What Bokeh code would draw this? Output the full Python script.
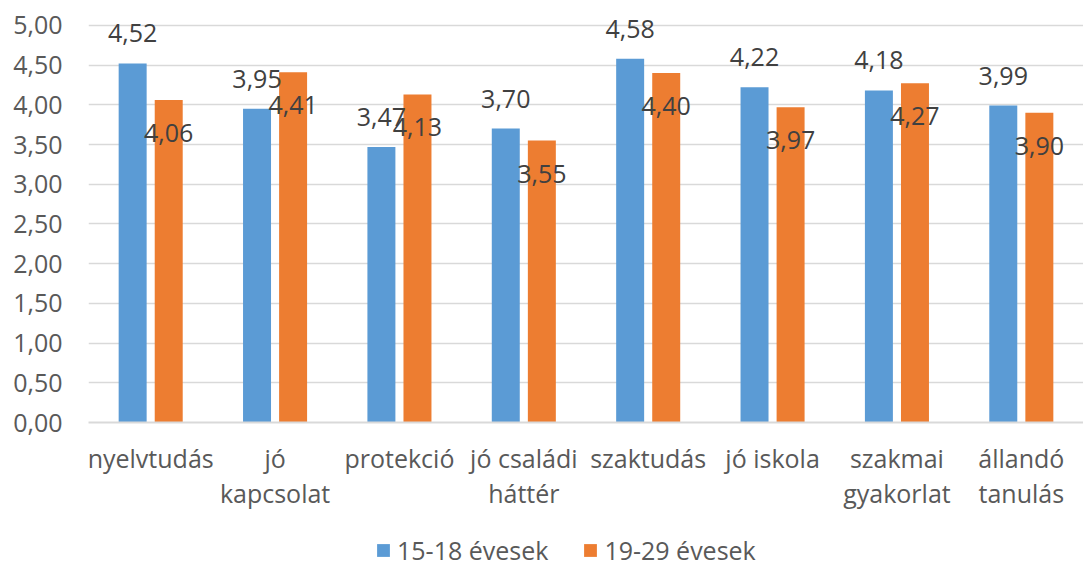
from bokeh.plotting import figure
from bokeh.layouts import column
from bokeh.models import ColumnDataSource, FixedTicker, Legend, LegendItem, Range1d
from bokeh.core.properties import value
from bokeh.transform import dodge
from bokeh.embed import file_html
from bokeh.resources import INLINE

categories = ["nyelvtudás", "jó\nkapcsolat", "protekció", "jó családi\nháttér",
              "szaktudás", "jó iskola", "szakmai\ngyakorlat", "állandó\ntanulás"]
series_names = ["15-18 évesek", "19-29 évesek"]
young = [4.52, 3.95, 3.47, 3.70, 4.58, 4.22, 4.18, 3.99]
older = [4.06, 4.41, 4.13, 3.55, 4.40, 3.97, 4.27, 3.90]
y_ticks = [0.0, 0.5, 1.0, 1.5, 2.0, 2.5, 3.0, 3.5, 4.0, 4.5, 5.0]
y_tick_labels = ["0,00", "0,50", "1,00", "1,50", "2,00", "2,50", "3,00", "3,50", "4,00", "4,50", "5,00"]

BLUE = "#5B9BD5"
ORANGE = "#ED7D31"
FONT = "Open Sans"
FS = "25px"

idx = list(range(len(categories)))
src = ColumnDataSource(dict(
    x=idx,
    young=young,
    older=older,
    young_lbl=[f"{v:.2f}".replace(".", ",") for v in young],
    older_lbl=[f"{v:.2f}".replace(".", ",") for v in older],
))

W = 1083
H_MAIN = 522
H_LEG = 46

p = figure(width=W, height=H_MAIN, output_backend="svg", toolbar_location=None,
           x_range=Range1d(-0.5, len(categories) - 0.5), y_range=Range1d(0, 5.25),
           min_border_left=88, min_border_right=0, min_border_top=5, min_border_bottom=100)
p.outline_line_color = None
p.background_fill_color = "white"
p.border_fill_color = "white"

off = 0.145
w = 0.225
r1 = p.vbar(x=dodge("x", -off, range=p.x_range), top="young", width=w, source=src,
            fill_color=BLUE, line_color=None)
r2 = p.vbar(x=dodge("x", off, range=p.x_range), top="older", width=w, source=src,
            fill_color=ORANGE, line_color=None)

p.text(x=dodge("x", -off, range=p.x_range), y="young", text="young_lbl", source=src,
       text_align="center", text_baseline="middle", y_offset=-30,
       text_font=value(FONT), text_font_size=FS, text_color="#404040")
p.text(x=dodge("x", off, range=p.x_range), y="older", text="older_lbl", source=src,
       text_align="center", text_baseline="middle", y_offset=33,
       text_font=value(FONT), text_font_size=FS, text_color="#404040")

# axes
p.xaxis.ticker = FixedTicker(ticks=idx)
p.xaxis.major_label_overrides = {i: c for i, c in zip(idx, categories)}
p.xaxis.major_tick_line_color = None
p.xaxis.major_tick_out = 0
p.xaxis.major_tick_in = 0
p.xaxis.minor_tick_line_color = None
p.xaxis.axis_line_color = "#D9D9D9"
p.xaxis.axis_line_width = 2
p.xaxis.major_label_standoff = 18
p.xaxis.major_label_text_font = FONT
p.xaxis.major_label_text_font_size = FS
p.xaxis.major_label_text_color = "#595959"
p.xaxis.major_label_text_line_height = 1.03

p.yaxis.ticker = FixedTicker(ticks=y_ticks)
p.yaxis.major_label_overrides = {t: l for t, l in zip(y_ticks, y_tick_labels)}
p.yaxis.axis_line_color = None
p.yaxis.major_tick_line_color = None
p.yaxis.major_tick_out = 0
p.yaxis.major_tick_in = 0
p.yaxis.minor_tick_line_color = None
p.yaxis.major_label_standoff = 26
p.yaxis.major_label_text_font = FONT
p.yaxis.major_label_text_font_size = FS
p.yaxis.major_label_text_color = "#595959"

p.xgrid.grid_line_color = None
p.ygrid.ticker = FixedTicker(ticks=y_ticks)
p.ygrid.grid_line_color = "#D9D9D9"
p.ygrid.grid_line_width = 1.5

# legend in a strip below the chart (swatch renderers sit outside the visible range)
lp = figure(width=W, height=H_LEG, output_backend="svg", toolbar_location=None,
            x_range=Range1d(0, 1), y_range=Range1d(0, 1),
            x_axis_location=None, y_axis_location=None,
            min_border_left=0, min_border_right=0, min_border_top=12, min_border_bottom=0)
lp.outline_line_color = None
lp.grid.visible = False
lp.border_fill_color = "white"
d1 = lp.vbar(x=[10], top=[1], width=0.1, fill_color=BLUE, line_color=None)
d2 = lp.vbar(x=[10], top=[1], width=0.1, fill_color=ORANGE, line_color=None)
legend = Legend(items=[LegendItem(label=series_names[0], renderers=[d1]),
                       LegendItem(label=series_names[1], renderers=[d2])],
                orientation="horizontal", location=(287, 1),
                glyph_width=16, glyph_height=16, label_standoff=6, spacing=34,
                label_text_font=FONT, label_text_font_size=FS, label_text_color="#595959",
                border_line_color=None, background_fill_alpha=0, margin=0, padding=0)
lp.add_layout(legend, "center")

layout = column(p, lp, spacing=0)
open("out.html", "w").write(file_html(layout, INLINE))
